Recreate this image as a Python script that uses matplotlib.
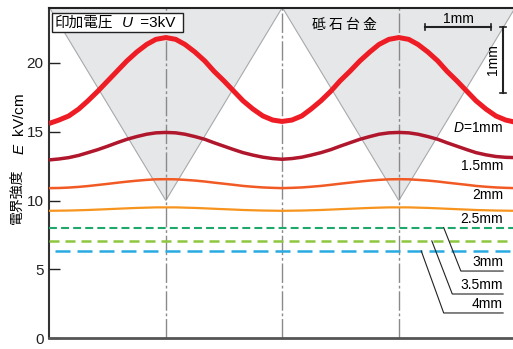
import matplotlib
matplotlib.use("Agg")
import matplotlib.pyplot as plt
from matplotlib.patches import Polygon, Rectangle

plt.rcParams["font.family"] = ["Liberation Sans", "Noto Sans CJK JP"]
plt.rcParams["mathtext.fontset"] = "custom"
plt.rcParams["mathtext.rm"] = "Liberation Sans"
plt.rcParams["mathtext.it"] = "Liberation Sans:italic"

# position along the wheel surface (mm)
x_mm = [0.00, 0.15, 0.30, 0.45, 0.59, 0.74, 0.89, 1.03, 1.18, 1.33, 1.48, 1.62, 1.77,
        1.92, 2.06, 2.21, 2.36, 2.50, 2.65, 2.80, 2.94, 3.09, 3.24, 3.39, 3.53,
        3.68, 3.83, 3.97, 4.12, 4.27, 4.41, 4.56, 4.71, 4.86, 5.00, 5.15, 5.30,
        5.45, 5.59, 5.74, 5.89, 6.03, 6.18, 6.33, 6.47, 6.62, 6.77, 6.92, 7.06]

# field strength E (kV/cm) for each gap D
e_d10 = [15.60, 15.85, 16.15, 16.65, 17.25, 17.95, 18.70, 19.40, 20.15, 20.80, 21.35, 21.72, 21.85,
         21.72, 21.35, 20.80, 20.15, 19.40, 18.70, 17.95, 17.25, 16.65, 16.15, 15.85, 15.75,
         15.85, 16.15, 16.65, 17.25, 17.95, 18.70, 19.40, 20.15, 20.80, 21.35, 21.72, 21.85,
         21.72, 21.35, 20.80, 20.15, 19.40, 18.70, 17.95, 17.25, 16.65, 16.15, 15.85, 15.70]
e_d15 = [12.95, 13.02, 13.12, 13.28, 13.48, 13.70, 13.95, 14.20, 14.45, 14.65, 14.82, 14.92, 14.95,
         14.92, 14.82, 14.65, 14.45, 14.20, 13.95, 13.70, 13.48, 13.30, 13.15, 13.05, 13.00,
         13.05, 13.15, 13.30, 13.48, 13.70, 13.95, 14.20, 14.45, 14.65, 14.82, 14.92, 14.95,
         14.92, 14.82, 14.65, 14.45, 14.20, 13.95, 13.70, 13.48, 13.32, 13.20, 13.14, 13.12]
e_d20 = [10.90, 10.91, 10.94, 10.99, 11.05, 11.13, 11.21, 11.29, 11.37, 11.44, 11.50, 11.54, 11.55,
         11.54, 11.50, 11.45, 11.38, 11.30, 11.22, 11.14, 11.06, 11.00, 10.95, 10.92, 10.90,
         10.92, 10.95, 11.00, 11.06, 11.14, 11.22, 11.30, 11.38, 11.45, 11.50, 11.54, 11.55,
         11.54, 11.50, 11.45, 11.38, 11.30, 11.22, 11.14, 11.06, 11.00, 10.95, 10.92, 10.90]
e_d25 = [9.25, 9.26, 9.27, 9.29, 9.31, 9.34, 9.37, 9.40, 9.43, 9.46, 9.48, 9.50, 9.50,
         9.50, 9.48, 9.46, 9.43, 9.40, 9.37, 9.34, 9.31, 9.29, 9.27, 9.26, 9.25,
         9.26, 9.27, 9.29, 9.31, 9.34, 9.37, 9.40, 9.43, 9.46, 9.48, 9.50, 9.50,
         9.50, 9.48, 9.46, 9.43, 9.40, 9.37, 9.34, 9.31, 9.29, 9.27, 9.26, 9.25]

# larger gaps give an almost uniform field
flat_labels = ["3mm", "3.5mm", "4mm"]
flat_e = [8.03, 7.06, 6.33]

grain_x = [1.77, 5.30]   # abrasive grain tips (mm)
grain_tip = 10.0
valley_x = 3.53

XMAX, YMAX = 7.03, 24.0
W, H = 513, 349


def fpx(px, py):
    """pixel position -> figure fraction"""
    return px / W, 1 - py / H


fig = plt.figure(figsize=(W / 100, H / 100), dpi=100)
ax = fig.add_axes([49 / W, 11 / H, 464 / W, 330 / H])
ax.set_xlim(0, XMAX)
ax.set_ylim(0, YMAX)

# conversion so the vertical scale bar is also 1 mm long
px_per_mm = 464 / XMAX
px_per_unit = 330 / YMAX
mm_in_y = px_per_mm / px_per_unit

# grains of the wheel drawn as grey inverted triangles
half_w = 1.76
for gx in grain_x:
    tri = Polygon([(gx - half_w, YMAX), (gx, grain_tip), (gx + half_w, YMAX)], closed=True,
                  facecolor="#e6e7e8", edgecolor="#a7a9ac", lw=0.8, zorder=1)
    ax.add_patch(tri)

for vx in grain_x + [valley_x]:
    ax.axvline(vx, color="#8a8a8a", lw=1.0, ls=(0, (14, 2, 2, 2)), zorder=2)

line_kw = dict(solid_capstyle="butt", solid_joinstyle="round", zorder=5)
ax.plot(x_mm, e_d10, color="#ee1c24", lw=3.6, **line_kw)
ax.plot(x_mm, e_d15, color="#b0162c", lw=2.5, **line_kw)
ax.plot(x_mm, e_d20, color="#f15a24", lw=1.8, **line_kw)
ax.plot(x_mm, e_d25, color="#f7941d", lw=1.6, **line_kw)

flat_styles = [
    dict(color="#1fa86b", lw=1.5, ls=(0, (3.8, 2.0)), x0=0.0),
    dict(color="#8dc63f", lw=1.8, ls=(0, (4.0, 2.4)), x0=0.0),
    dict(color="#29abe2", lw=1.8, ls=(0, (6.0, 2.8)), x0=0.09),
]
for level, st in zip(flat_e, flat_styles):
    ax.plot([st["x0"], XMAX], [level, level], color=st["color"], lw=st["lw"], ls=st["ls"], zorder=4)

# curve labels
lab_x = 6.88
ax.text(lab_x, 15.25, "$D$=1mm", ha="right", va="center", fontsize=10, zorder=6)
ax.text(lab_x, 12.5, "1.5mm", ha="right", va="center", fontsize=10, zorder=6)
ax.text(lab_x, 10.4, "2mm", ha="right", va="center", fontsize=10, zorder=6)
ax.text(lab_x, 8.65, "2.5mm", ha="right", va="center", fontsize=10, zorder=6)

# leader lines for the dashed curves
leader_start = [5.98, 5.80, 5.64]
leader_end = [(6.24, 4.87), (6.11, 3.20), (5.98, 1.82)]
for lab, lv, sx, (ex, ey) in zip(flat_labels, flat_e, leader_start, leader_end):
    ax.plot([sx, ex, lab_x], [lv, ey, ey], color="#222222", lw=0.8, zorder=6)
    ax.text(lab_x, ey + 0.12, lab, ha="right", va="bottom", fontsize=10, zorder=6)

# scale bars
sb_y = 22.62
cap = 0.22
ax.plot([5.70, 6.70], [sb_y, sb_y], color="#222222", lw=1.5, zorder=6)
for cx in (5.70, 6.70):
    ax.plot([cx, cx], [sb_y - cap, sb_y + cap], color="#222222", lw=1.2, zorder=6)
ax.text(6.20, sb_y + 0.1, "1mm", ha="center", va="bottom", fontsize=10, zorder=6)

ax.plot([6.88, 6.88], [sb_y, sb_y - mm_in_y], color="#222222", lw=1.5, zorder=6)
for cy in (sb_y, sb_y - mm_in_y):
    ax.plot([6.83, 6.93], [cy, cy], color="#222222", lw=1.2, zorder=6)
ax.text(6.72, sb_y - mm_in_y / 2, "1mm", ha="center", va="center", rotation=90,
        fontsize=10, zorder=6)

# applied voltage box
x0, y0 = fpx(52, 32)
x1, y1 = fpx(183, 13)
fig.add_artist(Rectangle((x0, y0), x1 - x0, y1 - y0, transform=fig.transFigure,
                         facecolor="white", edgecolor="#222222", lw=1.0, zorder=7))
fig.text(*fpx(55, 23), "印加電圧", ha="left", va="center", fontsize=10.5,
         family=["Noto Sans CJK JP"], zorder=8)
fig.text(*fpx(122, 23), "U", ha="left", va="center", fontsize=11, style="italic", zorder=8)
fig.text(*fpx(136, 23), " =3kV", ha="left", va="center", fontsize=11, zorder=8)

ax.text(4.48, 22.75, "砥 石 台 金", ha="center", va="center", fontsize=10,
        family=["Noto Sans CJK JP"], zorder=6)

# y axis label in two parts
fig.text(*fpx(17, 196), "電界強度", rotation=90, ha="center", va="center",
         fontsize=10, family=["Noto Sans CJK JP"])
fig.text(*fpx(20, 124), "$E$  kV/cm", rotation=90, ha="center", va="center", fontsize=11)

ax.set_yticks([0, 5, 10, 15, 20])
ax.set_xticks([])
ax.tick_params(axis="y", direction="in", length=8, width=1.0, pad=4, labelsize=11,
               colors="#222222")
ax.spines["right"].set_visible(False)
ax.spines["left"].set_linewidth(1.5)
ax.spines["left"].set_color("#333333")
ax.spines["top"].set_linewidth(1.5)
ax.spines["top"].set_color("#222222")
ax.spines["bottom"].set_linewidth(2.0)
ax.spines["bottom"].set_color("#555555")

fig.savefig("out.png", dpi=100)
